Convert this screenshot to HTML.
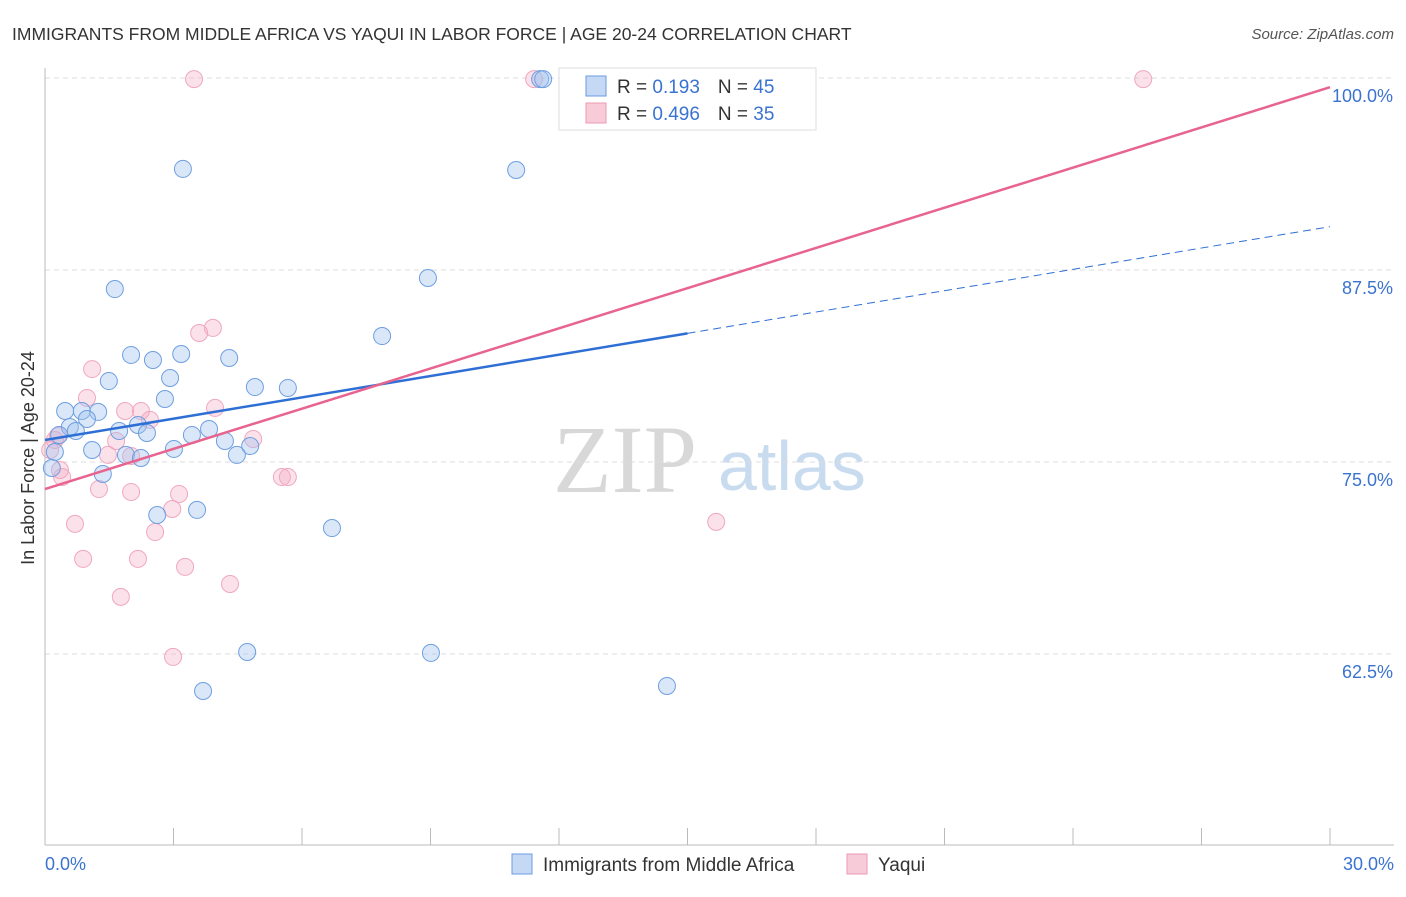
<!DOCTYPE html>
<html><head><meta charset="utf-8"><style>
body{margin:0;background:#fff;font-family:"Liberation Sans",sans-serif}
svg text{font-family:"Liberation Sans",sans-serif}
</style></head><body>
<svg id="c" width="1406" height="892" xmlns="http://www.w3.org/2000/svg">
<text x="12" y="40" font-size="17.5" fill="#333">IMMIGRANTS FROM MIDDLE AFRICA VS YAQUI IN LABOR FORCE | AGE 20-24 CORRELATION CHART</text>
<text x="1394" y="39" font-size="15" fill="#555" font-style="italic" text-anchor="end">Source: ZipAtlas.com</text>
<text x="34" y="458" font-size="18" fill="#333" text-anchor="middle" transform="rotate(-90 34 458)">In Labor Force | Age 20-24</text>
<text x="553" y="492" font-size="96" fill="#d8d8d8" style="font-family:'Liberation Serif',serif">ZIP</text>
<text x="718" y="490" font-size="70" fill="#c9dcef">atlas</text>
<g id="grid"></g><g id="pts"></g><g id="lines"></g>
<g>
<rect x="559" y="68" width="257" height="62" fill="#fff" stroke="#ddd"/>
<rect x="586" y="76" width="20" height="20" fill="#c5d9f5" stroke="#6a9be0"/>
<rect x="586" y="103" width="20" height="20" fill="#f8cbd8" stroke="#ec9ab4"/>
<text x="617" y="93" font-size="19" fill="#333">R = <tspan fill="#3a73d0"> 0.193</tspan><tspan dx="18">N = </tspan><tspan fill="#3a73d0">45</tspan></text>
<text x="617" y="120" font-size="19" fill="#333">R = <tspan fill="#3a73d0">0.496</tspan><tspan dx="18">N = </tspan><tspan fill="#3a73d0">35</tspan></text>
</g>
<g>
<rect x="512" y="854" width="20" height="20" fill="#c5d9f5" stroke="#6a9be0"/>
<text x="543" y="871" font-size="19" fill="#333">Immigrants from Middle Africa</text>
<rect x="847" y="854" width="20" height="20" fill="#f8cbd8" stroke="#ec9ab4"/>
<text x="878" y="871" font-size="19" fill="#333">Yaqui</text>
</g>
</svg>
<script>
const blueX=[11.56,11.63,3.22,11.00,8.94,1.63,7.87,2.01,2.52,3.18,4.30,1.49,2.92,4.90,5.67,2.80,0.47,0.86,1.24,0.98,2.17,3.83,0.58,1.73,2.38,0.72,3.43,0.33,4.20,4.79,1.10,4.48,1.89,2.24,3.01,0.23,1.35,0.16,2.62,3.55,6.70,4.72,9.01,3.69,14.52];
const blueY=[99.93,99.93,94.08,94.01,86.98,86.26,83.20,81.97,81.64,82.03,81.77,80.27,80.47,79.88,79.82,79.10,78.32,78.32,78.26,77.80,77.41,77.15,77.28,77.02,76.89,77.02,76.76,76.76,76.37,76.04,75.78,75.46,75.46,75.26,75.85,75.65,74.22,74.61,71.55,71.88,70.70,62.63,62.57,60.09,60.42];
const pinkX=[3.48,11.42,25.64,3.92,3.60,1.10,0.98,3.97,1.87,2.24,2.45,0.30,1.66,4.86,1.47,2.01,0.35,0.40,1.26,2.01,3.13,2.97,0.70,2.57,15.67,5.53,5.67,0.89,2.17,3.27,4.32,1.77,2.99,0.12,0.23];
const pinkY=[99.93,99.93,99.93,83.73,83.40,81.05,79.17,78.52,78.32,78.32,77.74,76.69,76.37,76.50,75.46,75.39,74.48,74.02,73.24,73.05,72.92,71.94,70.97,70.44,71.10,74.02,74.02,68.69,68.69,68.17,67.06,66.22,62.31,75.78,76.43];
const blueTrend=[76.43,0.463]; const pinkTrend=[73.24,0.872];
const yTicks=[100,87.5,75,62.5]; const xTickLabels=["0.0%","30.0%"];
const NS="http://www.w3.org/2000/svg";
const sx=v=>45+v/30*1285, sy=v=>78+(100-v)/12.5*192;
function mk(t,a,p){const e=document.createElementNS(NS,t);for(const k in a)e.setAttribute(k,a[k]);p.appendChild(e);return e;}
const g=document.getElementById('grid'),svg=document.getElementById('c');
yTicks.forEach(v=>{const l=mk('line',{x1:45,x2:1394,y1:sy(v),y2:sy(v),stroke:'#ddd','stroke-dasharray':'5,4'},g);


const t=mk('text',{x:1393,y:sy(v)+24,'font-size':18,fill:'#3a73d0','text-anchor':'end'},g);t.textContent=v.toFixed(1)+'%';

});
mk('line',{x1:45,x2:45,y1:68,y2:845,stroke:'#bbb'},g);
mk('line',{x1:45,x2:1394,y1:845,y2:845,stroke:'#bbb'},g);
for(let i=0;i<=10;i++){const l=mk('line',{x1:sx(i*3),x2:sx(i*3),y1:828,y2:845,stroke:'#bbb'},g);

}
[[0,45,'start'],[1,1394,'end']].forEach(([i,x,a])=>{const t=mk('text',{x:x,y:870,'font-size':18,fill:'#3a73d0','text-anchor':a},g);t.textContent=xTickLabels[i];

});
const p=document.getElementById('pts');
pinkX.forEach((x,i)=>{const c=mk('circle',{cx:sx(x),cy:sy(pinkY[i]),r:8.5,fill:'rgba(244,170,195,0.35)',stroke:'#f0a7bf','stroke-width':1},p);

});
blueX.forEach((x,i)=>{const c=mk('circle',{cx:sx(x),cy:sy(blueY[i]),r:8.5,fill:'rgba(160,195,240,0.4)',stroke:'#6f9fe0','stroke-width':1},p);

});
const L=document.getElementById('lines');
const f=(t,x)=>t[0]+t[1]*x;
let l1=mk('line',{x1:sx(0),y1:sy(f(blueTrend,0)),x2:sx(15),y2:sy(f(blueTrend,15)),stroke:'#2e6fd6','stroke-width':2.5},L);


let l2=mk('line',{x1:sx(15),y1:sy(f(blueTrend,15)),x2:sx(30),y2:sy(f(blueTrend,30)),stroke:'#2e6fd6','stroke-width':1,'stroke-dasharray':'8,5'},L);


let l3=mk('line',{x1:sx(0),y1:sy(f(pinkTrend,0)),x2:sx(30),y2:sy(f(pinkTrend,30)),stroke:'#e8648f','stroke-width':2.5},L);


</script>
</body></html>
